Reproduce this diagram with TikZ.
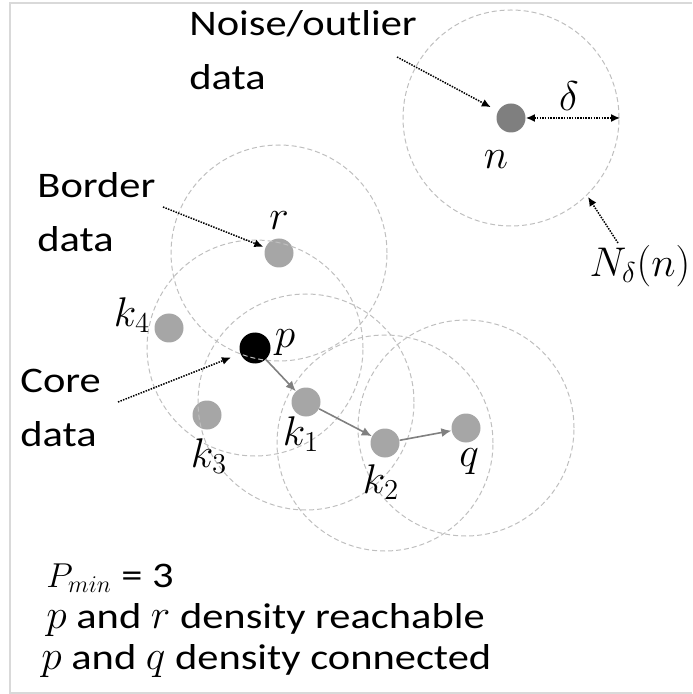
\documentclass[tikz,border=0pt]{standalone}
\usepackage{fontspec}
\setmainfont{Carlito}[FakeStretch=1.18]
\usetikzlibrary{arrows.meta}
\definecolor{dotgray}{HTML}{A6A6A6}
\definecolor{noisegray}{HTML}{7F7F7F}
\definecolor{ringgray}{HTML}{BFBFBF}
\definecolor{linkgray}{HTML}{808080}

\begin{document}
\begin{tikzpicture}[x=.5pt,y=-.5pt,
  pt/.style={circle,fill=dotgray,inner sep=0pt,minimum size=14.5pt},
  nbhd/.style={ringgray,line width=.5pt,dash pattern=on 2.5pt off 1.5pt},
  link/.style={-{Latex[length=5pt,width=4.5pt]},linkgray,line width=.8pt},
  pointer/.style={-{Latex[length=4.5pt,width=4pt]},line width=.75pt,dash pattern=on .75pt off .6pt},
  lbl/.style={font=\fontsize{18}{27}\selectfont,align=left,inner sep=0pt},
  mlbl/.style={font=\fontsize{20}{22}\selectfont,inner sep=0pt}]
\useasboundingbox (0,0) rectangle (692,694);
\draw[black!15,line width=1pt] (692,3)--(10,3)--(10,693)--(692,693);
\node[pt,fill=noisegray] (n) at (511,118) {};
\node[pt] (r) at (279,253) {};
\node[pt] (k4) at (169,328) {};
\node[pt,fill=black,minimum size=15.5pt] (p) at (255,348) {};
\node[pt] (k1) at (306,402) {};
\node[pt] (k3) at (207,415) {};
\node[pt] (k2) at (385,443) {};
\node[pt] (q) at (466,428) {};
\foreach \c in {n,r,p,k1,k2,q} \draw[nbhd] (\c) circle[radius=54pt];
\foreach \a/\b in {p/k1,k1/k2,k2/q} \draw[link] (\a)--(\b);
\node[mlbl] (rlab) at (279,221) {$r$};
\node[mlbl] (k4lab) at (132,315) {$k_4$};
\node[mlbl] (plab) at (285,343) {$p$};
\node[mlbl] (k1lab) at (301,434) {$k_1$};
\node[mlbl] (k3lab) at (209,456) {$k_3$};
\node[mlbl] (k2lab) at (381,482) {$k_2$};
\node[mlbl] (qlab) at (469,462) {$q$};
\node[mlbl] (nlab) at (496,160) {$n$};
\node[mlbl] (dlab) at (569,96) {$\delta$};
\node[mlbl] (Nlab) at (640,266) {$N_\delta(n)$};
\node[lbl,anchor=base west] (noise) at (189,90) {Noise/outlier\\data};
\node[lbl,anchor=base west] (border) at (37,252) {Border\\data};
\node[lbl,anchor=base west] (core) at (20,446) {Core\\data};
\node[lbl,font=\fontsize{18}{20.5}\selectfont,anchor=base west] (stats) at (41,669)
  {\kern2.5pt$\fontsize{20}{22}\selectfont P_{min}$ = 3\\\kern2.5pt{\fontsize{20}{22}\selectfont$p$} and {\fontsize{20}{22}\selectfont$r$} density reachable\\{\fontsize{20}{22}\selectfont$p$} and {\fontsize{20}{22}\selectfont$q$} density connected};
\coordinate (noisetail) at (397,57);
\coordinate (bordertail) at (163,207);
\coordinate (coretail) at (118,402);
\coordinate (Ntail) at (618,243);
\coordinate (nrim) at (588,197);
\coordinate (deltaend) at (620,118);
\draw[pointer,shorten >=4pt] (noisetail)--(n);
\draw[pointer,shorten >=1pt] (bordertail)--(r);
\draw[pointer,shorten >=5pt] (coretail)--(p);
\draw[pointer] (Ntail)--(nrim);
\draw[pointer,{Latex[length=4.5pt,width=4pt]}-{Latex[length=4.5pt,width=4pt]}] (n)--(deltaend);
\end{tikzpicture}
\end{document}
